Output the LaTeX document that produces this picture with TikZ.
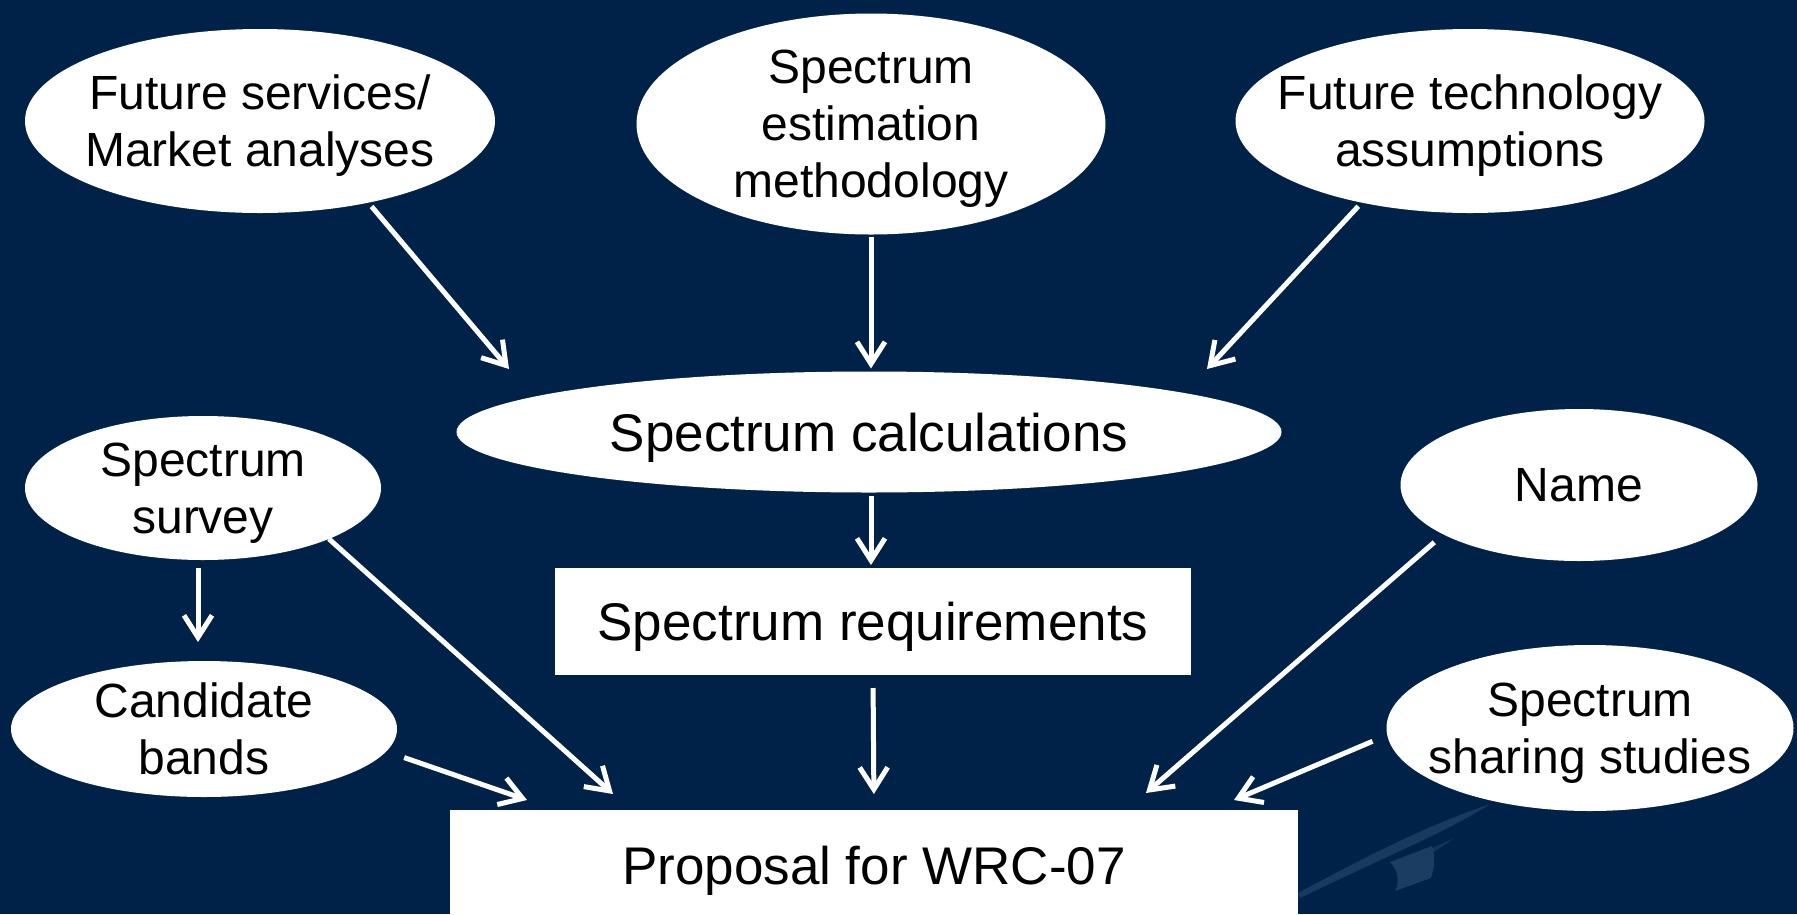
\documentclass[tikz,border=0pt]{standalone}
\usepackage{fontspec}
\setmainfont{Liberation Sans}
\usetikzlibrary{arrows.meta,shapes.geometric}
\definecolor{bg}{RGB}{1,34,72}
\definecolor{swoosh}{RGB}{150,185,220}
\begin{document}
\begin{tikzpicture}[x=1pt,y=-1pt,
  oval/.style={ellipse, fill=white, draw=none, inner xsep=-300pt, inner ysep=-150pt, outer sep=0pt, align=center, text=black, text depth=0pt, font=\fontsize{48}{57}\selectfont},
  box/.style={rectangle, fill=white, draw=none, inner sep=0pt, outer sep=0pt, align=center, text=black, text depth=0pt, font=\fontsize{53}{60}\selectfont},
  arr/.style={draw=white, line width=5pt, -{Straight Barb[length=22pt,width=28pt,line width=5pt]}}]
\fill[bg] (0,0) rectangle (1797,914);
\useasboundingbox (0,0) rectangle (1797,914);
% faint swoosh
\fill[swoosh, opacity=0.16] (1298,893) .. controls (1360,860) and (1420,828) .. (1490,804) .. controls (1450,830) and (1400,850) .. (1300,898) -- cycle;
\fill[swoosh, opacity=0.18] (1390,862) -- (1432,846) .. controls (1436,858) and (1434,868) .. (1431,878) -- (1395,891) .. controls (1400,882) and (1398,870) .. cycle;
\fill[swoosh, opacity=0.12] (1432,848) -- (1455,838) -- (1434,852) -- cycle;
% nodes
\node[oval, minimum width=470pt, minimum height=184pt] (fut) at (260,121) {Future services/\\Market analyses};
\node[oval, minimum width=469pt, minimum height=221pt] (est) at (871,124) {Spectrum\\estimation\\methodology};
\node[oval, minimum width=469pt, minimum height=184pt] (tech) at (1470,121) {Future technology\\assumptions};
\node[oval, minimum width=825pt, minimum height=121pt, font=\fontsize{53}{60}\selectfont] (calc) at (869,432) {Spectrum calculations};
\node[oval, minimum width=356pt, minimum height=144pt] (survey) at (203,488) {Spectrum\\survey};
\node[oval, minimum width=357pt, minimum height=152pt] (name) at (1579,485) {Name};
\node[oval, minimum width=386pt, minimum height=136pt] (cand) at (204,729) {Candidate\\bands};
\node[oval, minimum width=407pt, minimum height=166pt] (share) at (1590,728) {Spectrum\\sharing studies};
\node[box, minimum width=636pt, minimum height=107pt] (req) at (873,621.5) {Spectrum requirements};
\node[box, minimum width=848pt, minimum height=110pt] (prop) at (874,865) {Proposal for WRC-07};
% arrow end points
\coordinate (t1) at (509,369);
\coordinate (t3) at (1207,369);
\coordinate (t6) at (613,794);
\coordinate (t7) at (527,800);
\coordinate (t9) at (1146,793);
\coordinate (t10) at (1234,800);
% connectors
\draw[arr, shorten <=5pt] (fut.-37) -- (t1);
\draw[arr, shorten <=2pt, shorten >=3pt] (est.south) -- (est.south |- calc.north);
\draw[arr, shorten <=5pt] (tech.-143) -- (t3);
\draw[arr, shorten <=3pt, shorten >=3pt] (est.south |- calc.south) -- (est.south |- req.north);
\draw[arr, shorten <=8pt, shorten >=19pt] ([xshift=-5pt]survey.south) -- ([xshift=-5pt]survey.south |- cand.north);
\draw[arr] (survey.-22) -- (t6);
\draw[arr, shorten <=19pt] (cand.-7) -- (t7);
\draw[arr, shorten <=13pt, shorten >=16pt] (req.south) -- (prop.north);
\draw[arr, shorten <=12pt] (name.-160) -- (t9);
\draw[arr, shorten <=16pt] (share.-178) -- (t10);
\end{tikzpicture}
\end{document}
